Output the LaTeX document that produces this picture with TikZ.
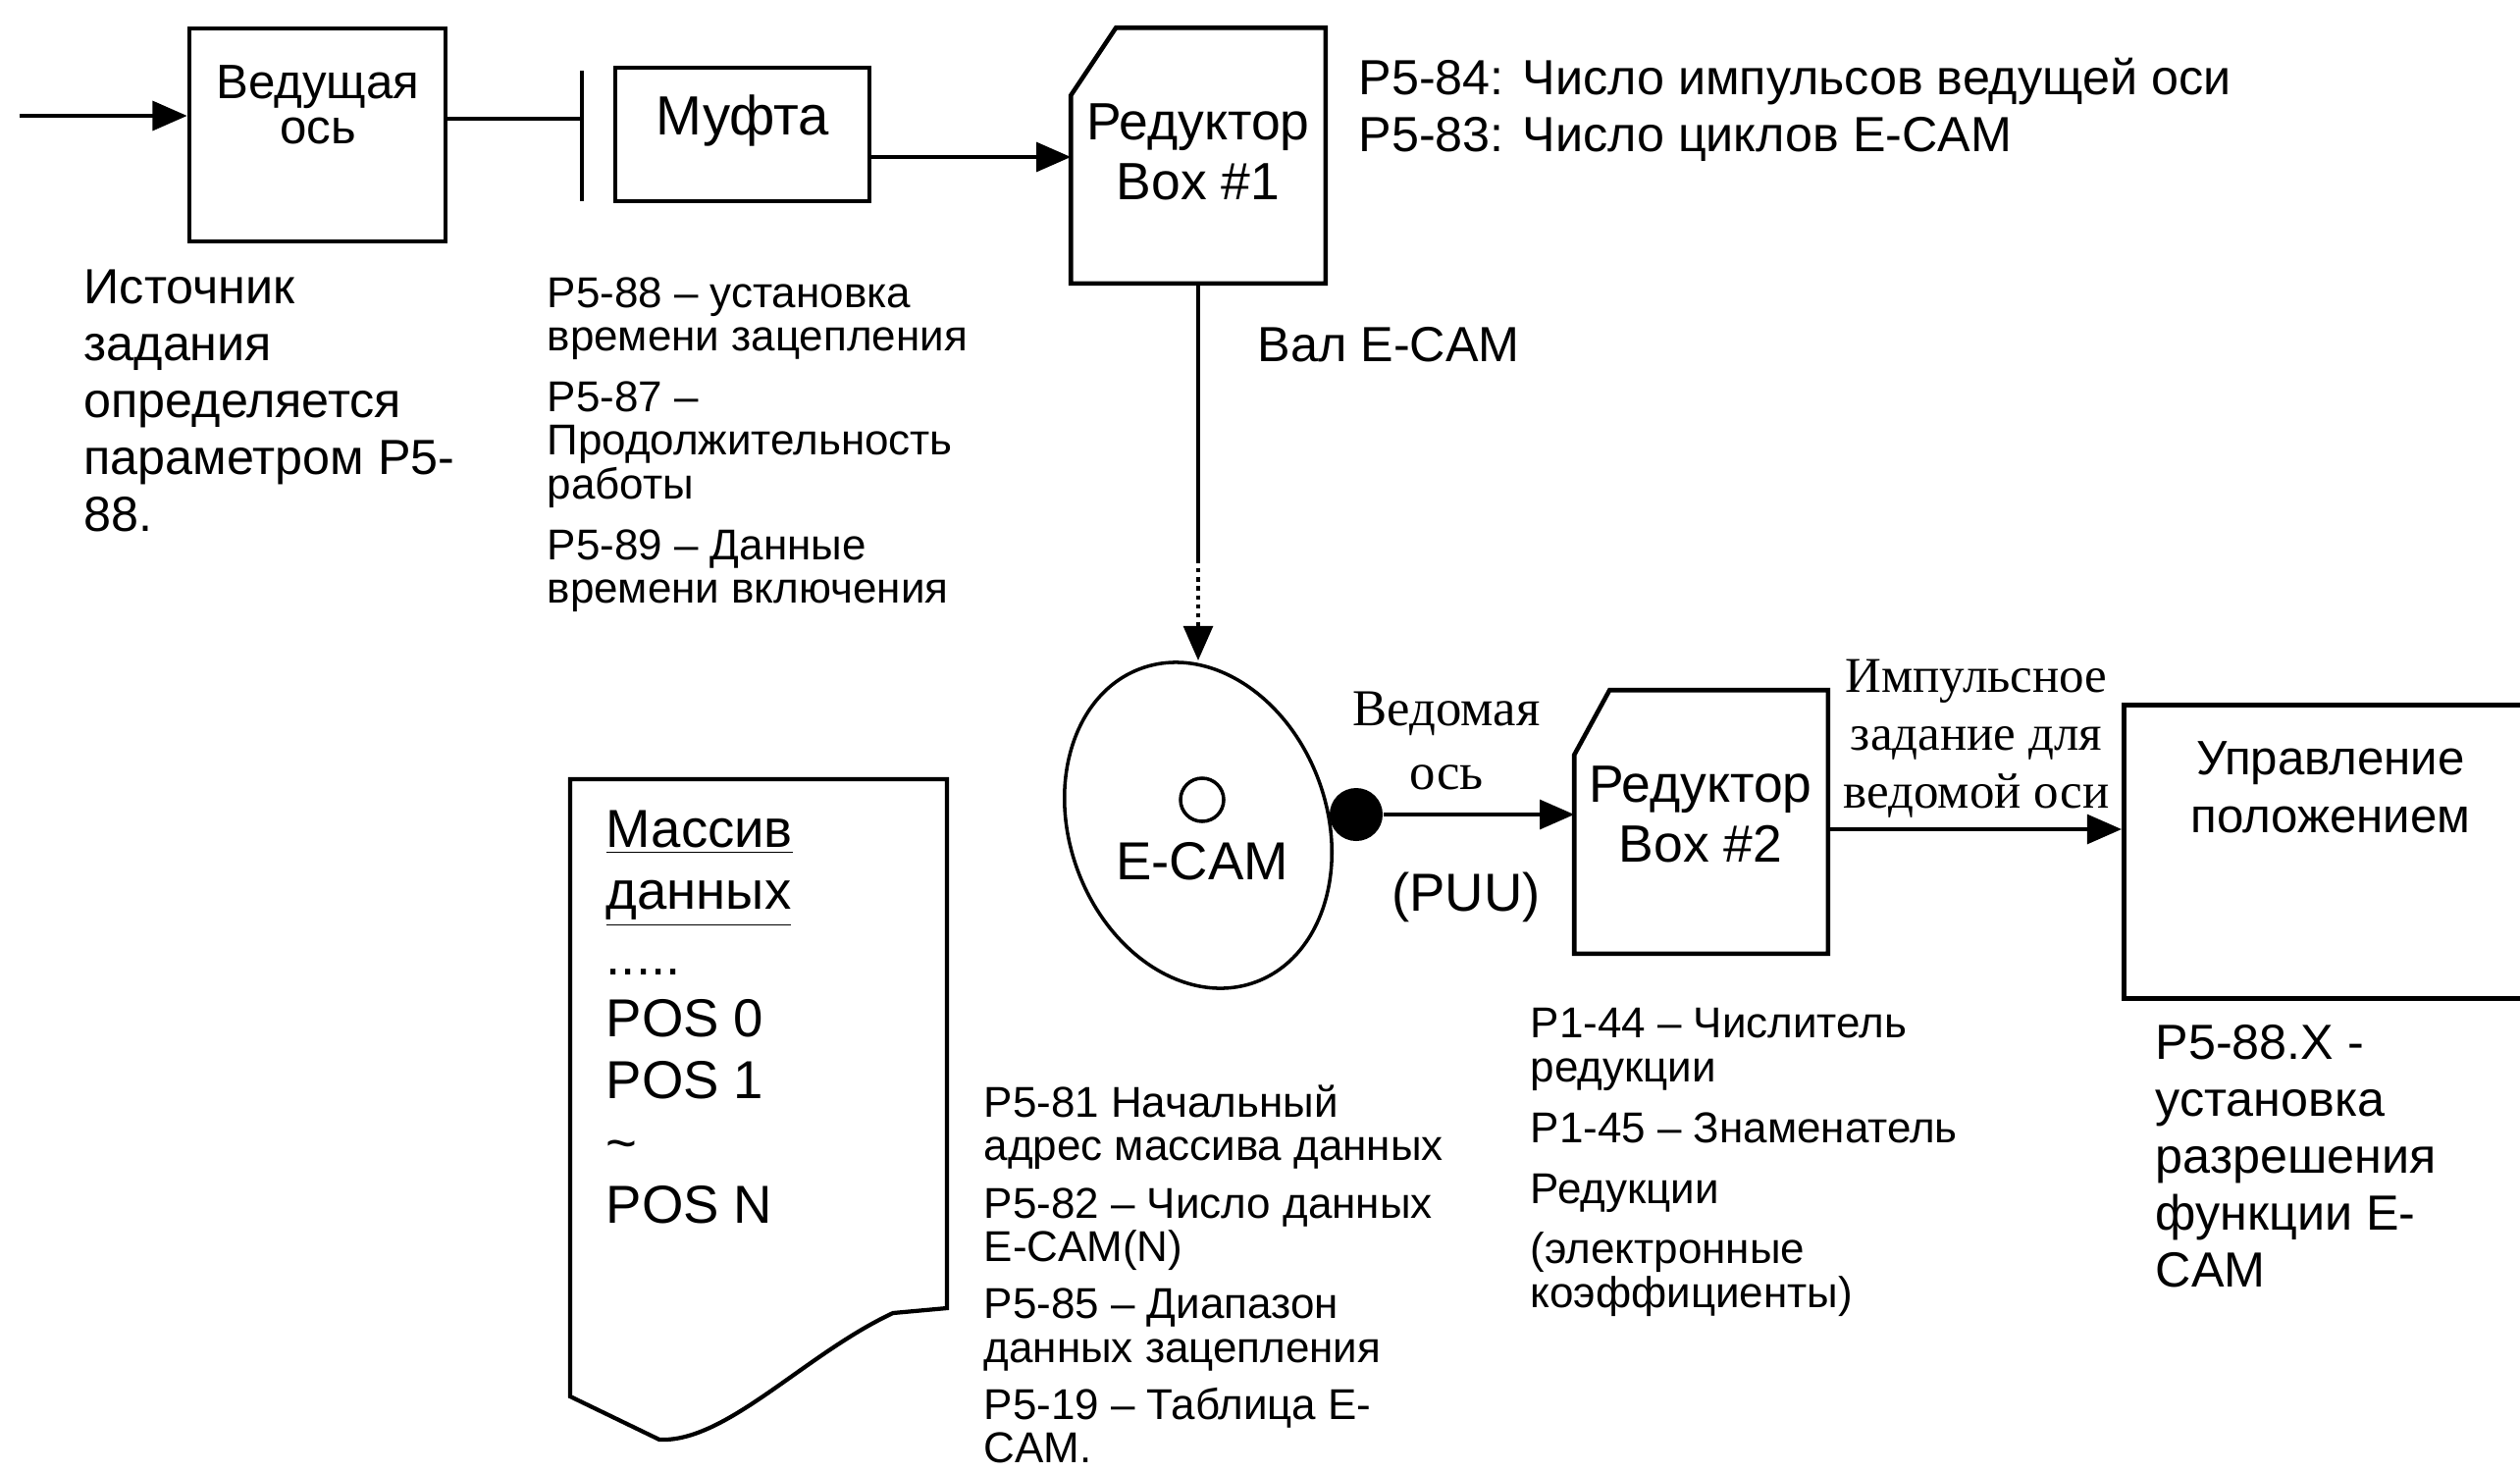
\documentclass[tikz,border=0pt]{standalone}
\usepackage{fontspec}
\setmainfont{Liberation Sans}
\newfontfamily\timesfont{Liberation Serif}
\usetikzlibrary{arrows.meta, shapes.geometric, calc}

\newcommand{\bigtxt}{\fontsize{14.3}{16.5}\selectfont}
\newcommand{\smalltxt}{\fontsize{12.5}{12.6}\selectfont}
\newcommand{\boxtxt}{\fontsize{15.2}{17.5}\selectfont}

\begin{document}
\begin{tikzpicture}[x=0.01cm, y=-0.01cm,
    blk/.style={draw, line width=1.3pt, inner sep=0pt},
    frame/.style={inner sep=0pt},
    lbl/.style={inner sep=0pt, align=center},
    note/.style={inner sep=0pt, anchor=north west, align=left},
    arr/.style={line width=1pt, -{Triangle[length=10pt, width=8.5pt]}},
    ln/.style={line width=1pt}]
    \useasboundingbox (0,0) rectangle (2568,1499);
    \clip (0,0) rectangle (2568,1499);

    % Master axis and clutch
    \node[blk, minimum width=2.61cm, minimum height=2.17cm] (ved) at (323.5,137.5) {};
    \node[lbl, font=\fontsize{14}{13}\selectfont] (vedlbl) at (324,107) {Ведущая\\ось};
    \node[blk, minimum width=2.59cm, minimum height=1.36cm] (muf) at (756.5,137) {};
    \node[lbl, font=\fontsize{16}{18}\selectfont] (muflbl) at (757,123) {Муфта};
    \draw[line width=1.3pt] (593,72) -- (593,205);

    % Gear box 1
    \node[frame, minimum width=2.58cm, minimum height=2.59cm] (rd1) at (1221,158.5) {};
    \draw[line width=1.3pt] ($(rd1.north west)+(46,0)$) -- (rd1.north east) -- (rd1.south east)
        -- (rd1.south west) -- ($(rd1.north west)+(0,69)$) -- cycle;
    \node[lbl, font=\boxtxt] (rd1lbl) at (1221,155) {Редуктор\\Box \#1};

    % E-CAM
    \node[draw, ellipse, line width=1pt, minimum width=2.62cm, minimum height=3.40cm,
        inner sep=0pt, rotate=20] (cam) at (1221,841) {};
    \node[draw, circle, line width=1pt, minimum size=0.44cm, inner sep=0pt] (camo) at (1225,815) {};
    \node[lbl, font=\fontsize{15.5}{17.5}\selectfont] (camlbl) at (1225,878) {E-CAM};
    \node[circle, fill, inner sep=0pt, minimum size=0.54cm] (dot) at (1382,830) {};

    % Gear box 2 and position control
    \node[frame, minimum width=2.57cm, minimum height=2.67cm] (rd2) at (1733.5,837.5) {};
    \draw[line width=1.3pt] ($(rd2.north west)+(36,0)$) -- (rd2.north east) -- (rd2.south east)
        -- (rd2.south west) -- ($(rd2.north west)+(0,66)$) -- cycle;
    \node[lbl, font=\boxtxt] (rd2lbl) at (1733,830) {Редуктор\\Box \#2};
    \node[blk, minimum width=4.6cm, minimum height=2.99cm, anchor=north west] (upr) at (2162,716) {};
    \node[lbl, font=\fontsize{14}{16.8}\selectfont] (uprlbl) at (2375,802) {Управление\\положением};

    % Data array
    \draw[line width=1.2pt] (581,794) -- (581,1423) -- (672,1467)
        .. controls (740,1470) and (820,1380) .. (910,1338) -- (965,1333) -- (965,794) -- cycle;
    \node[note, font=\fontsize{15.5}{18}\selectfont] (arr) at (617,825)
        {\underline{Массив}\\\underline{данных}\\[1pt].....\\POS 0\\POS 1\\\textasciitilde\\POS N};

    % Connectors
    \coordinate (in) at (20,118);
    \coordinate (bar) at (593,121);
    \coordinate (m1) at (886,160);
    \coordinate (dotend) at (1221,570);
    \coordinate (camtop) at (1221,673);
    \coordinate (o2) at (1862,845);
    \draw[arr] (in) -- (in -| ved.west);
    \draw[ln] (bar -| ved.east) -- (bar);
    \draw[arr] (m1) -- (m1 -| rd1.west);
    \draw[ln] (rd1.south) -- (dotend);
    \draw[arr, dash pattern=on 1.2pt off 1.4pt] (dotend) -- (camtop);
    \draw[arr] (dot) -- (dot -| rd2.west);
    \draw[arr] (o2) -- (o2 -| upr.west);

    % Connector labels
    \node[note, font=\bigtxt] (shaft) at (1281,333) {Вал E-CAM};
    \node[lbl, font=\timesfont\fontsize{15}{18.6}\selectfont] (slave) at (1474,755) {Ведомая\\ось};
    \node[lbl, font=\fontsize{15.5}{17.5}\selectfont] (puu) at (1494,914) {(PUU)};
    \node[lbl, font=\timesfont\fontsize{14.5}{16.8}\selectfont] (pulse) at (2014,753)
        {Импульсное\\задание для\\ведомой оси};

    % Parameter notes
    \node[note, font=\bigtxt] (src) at (85,274)
        {Источник\\задания\\определяется\\параметром P5-\\88.};
    \node[note, font=\smalltxt] (mufnote) at (557,282)
        {P5-88 – установка\\времени зацепления\\[5pt]P5-87 –\\Продолжительность\\работы\\[5pt]P5-89 – Данные\\времени включения};
    \node[note, font=\bigtxt] (ratio) at (1384,58)
        {P5-84: Число импульсов ведущей оси\\P5-83: Число циклов E-CAM};
    \node[note, font=\smalltxt] (camnote) at (1002,1105)
        {P5-81 Начальный\\адрес массива данных\\[4pt]P5-82 – Число данных\\E-CAM(N)\\[4pt]P5-85 – Диапазон\\данных зацепления\\[4pt]P5-19 – Таблица E-\\CAM.};
    \node[note, font=\smalltxt] (gearnote) at (1559,1027)
        {P1-44 – Числитель\\редукции\\[5pt]P1-45 – Знаменатель\\[5pt]Редукции\\[5pt](электронные\\коэффициенты)};
    \node[note, font=\bigtxt] (ennote) at (2196,1044)
        {P5-88.X -\\установка\\разрешения\\функции E-\\CAM};
\end{tikzpicture}
\end{document}
